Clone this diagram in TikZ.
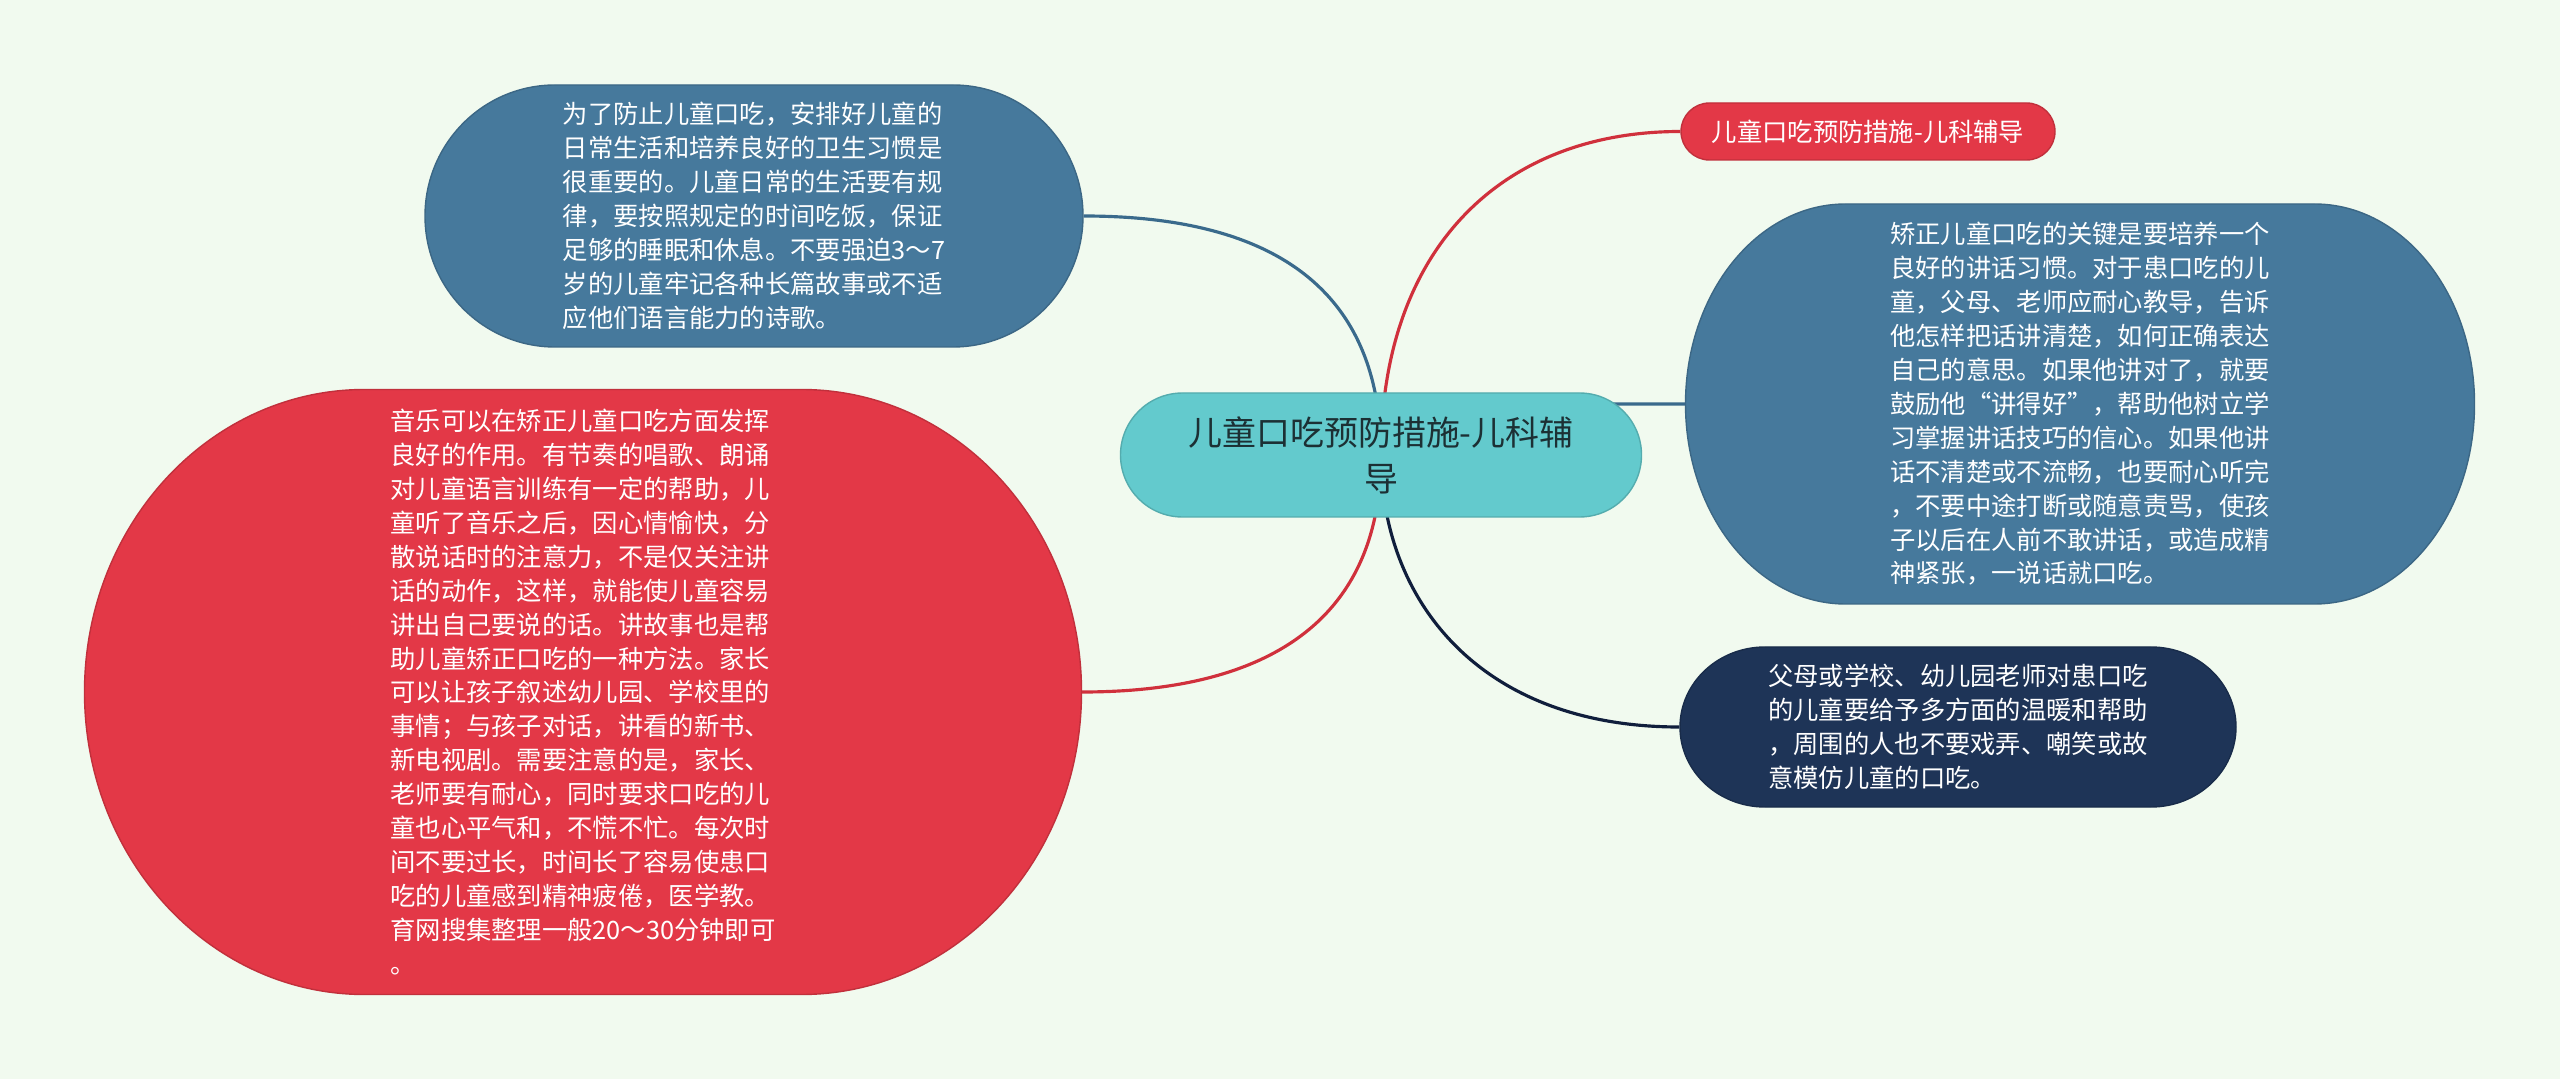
\documentclass[tikz,border=0pt]{standalone}
\usepackage{fontspec}
\setmainfont{Noto Sans CJK SC}
\usepackage{xcolor}
\usepackage{tikz}
\definecolor{bgfill}{RGB}{241,250,239}
\definecolor{ctrfill}{RGB}{99,202,205}
\definecolor{ctrtext}{RGB}{28,48,52}
\definecolor{bluefill}{RGB}{70,121,156}
\definecolor{redfill}{RGB}{227,56,71}
\definecolor{navyfill}{RGB}{30,52,87}
\definecolor{bluelink}{RGB}{58,106,140}
\definecolor{redlink}{RGB}{208,48,60}
\definecolor{navylink}{RGB}{16,30,60}
\pgfdeclarelayer{paper}
\pgfdeclarelayer{links}
\pgfsetlayers{paper,links,main}
\newcommand{\capsule}[6]{%   centre x, centre y, width, height, end radius, colour
  \filldraw[fill=#6, draw=#6!85!black, line width=0.4pt]
    ({#1-#3/2+#5},{#2+#4/2}) arc[start angle=90, end angle=270, x radius=#5, y radius=#4/2]
    -- ({#1+#3/2-#5},{#2-#4/2}) arc[start angle=-90, end angle=90, x radius=#5, y radius=#4/2]
    -- cycle;}

\begin{document}
\begin{tikzpicture}[
    txt/.style={font=\fontsize{7.2pt}{9.65pt}\selectfont, text=white, align=left, inner sep=0pt},
    link/.style={line width=0.9pt}]

\begin{pgfonlayer}{paper}
\fill[bgfill] (0,0) rectangle (25.6,10.79);
\end{pgfonlayer}
\useasboundingbox (0,0) rectangle (25.6,10.79);

% ---- centre
\capsule{13.81}{6.24}{5.21}{1.24}{0.62}{ctrfill}
\node[font=\fontsize{9.65pt}{13.05pt}\selectfont, text=ctrtext, align=center, inner sep=0pt,
      minimum width=5.21cm, minimum height=1.24cm] (ctr) at (13.81,6.24)
  {儿童口吃预防措施-儿科辅\\导};

% ---- title pill
\capsule{18.68}{9.475}{3.74}{0.57}{0.285}{redfill}
\node[txt, minimum width=3.74cm, minimum height=0.57cm] (title) at (18.68,9.475)
  {儿童口吃预防措施-儿科辅导};

% ---- habits
\capsule{7.54}{8.63}{6.58}{2.62}{1.3}{bluefill}
\node[txt, minimum width=6.58cm, minimum height=2.62cm] (habit) at (7.54,8.63)
  {为了防止儿童口吃，安排好儿童的\\
   日常生活和培养良好的卫生习惯是\\
   很重要的。儿童日常的生活要有规\\
   律，要按照规定的时间吃饭，保证\\
   足够的睡眠和休息。不要强迫3～7\\
   岁的儿童牢记各种长篇故事或不适\\
   应他们语言能力的诗歌。};

% ---- music
\capsule{5.83}{3.87}{9.97}{6.05}{2.8}{redfill}
\node[txt, minimum width=9.97cm, minimum height=6.05cm] (music) at (5.83,3.87)
  {音乐可以在矫正儿童口吃方面发挥\\
   良好的作用。有节奏的唱歌、朗诵\\
   对儿童语言训练有一定的帮助，儿\\
   童听了音乐之后，因心情愉快，分\\
   散说话时的注意力，不是仅关注讲\\
   话的动作，这样，就能使儿童容易\\
   讲出自己要说的话。讲故事也是帮\\
   助儿童矫正口吃的一种方法。家长\\
   可以让孩子叙述幼儿园、学校里的\\
   事情；与孩子对话，讲看的新书、\\
   新电视剧。需要注意的是，家长、\\
   老师要有耐心，同时要求口吃的儿\\
   童也心平气和，不慌不忙。每次时\\
   间不要过长，时间长了容易使患口\\
   吃的儿童感到精神疲倦，医学教。\\
   育网搜集整理一般20～30分钟即可\\
   。};

% ---- key points
\capsule{20.80}{6.75}{7.89}{4.00}{1.6}{bluefill}
\node[txt, minimum width=7.89cm, minimum height=4.00cm] (key) at (20.80,6.75)
  {矫正儿童口吃的关键是要培养一个\\
   良好的讲话习惯。对于患口吃的儿\\
   童，父母、老师应耐心教导，告诉\\
   他怎样把话讲清楚，如何正确表达\\
   自己的意思。如果他讲对了，就要\\
   鼓励他“讲得好”，帮助他树立学\\
   习掌握讲话技巧的信心。如果他讲\\
   话不清楚或不流畅，也要耐心听完\\
   ，不要中途打断或随意责骂，使孩\\
   子以后在人前不敢讲话，或造成精\\
   神紧张，一说话就口吃。};

% ---- care
\capsule{19.58}{3.52}{5.56}{1.60}{0.85}{navyfill}
\node[txt, minimum width=5.56cm, minimum height=1.60cm] (care) at (19.58,3.52)
  {父母或学校、幼儿园老师对患口吃\\
   的儿童要给予多方面的温暖和帮助\\
   ，周围的人也不要戏弄、嘲笑或故\\
   意模仿儿童的口吃。};

% ---- links, behind the bubbles
\begin{pgfonlayer}{links}
\draw[link, bluelink] (ctr.center) .. controls +(0,1.75) and +(1.77,0) .. (habit.east);
\draw[link, redlink] (ctr.center) .. controls +(0,2.05) and +(-1.8,0) .. (title.west);
\draw[link, bluelink] (ctr.center) .. controls +(0,0.51) and +(-2.35,0) .. (key.west);
\draw[link, redlink] (ctr.center) .. controls +(0,-1.85) and +(1.58,0) .. (music.east);
\draw[link, navylink] (ctr.center) .. controls +(0,-1.45) and +(-2,0) .. (care.west);
\end{pgfonlayer}
\end{tikzpicture}
\end{document}
